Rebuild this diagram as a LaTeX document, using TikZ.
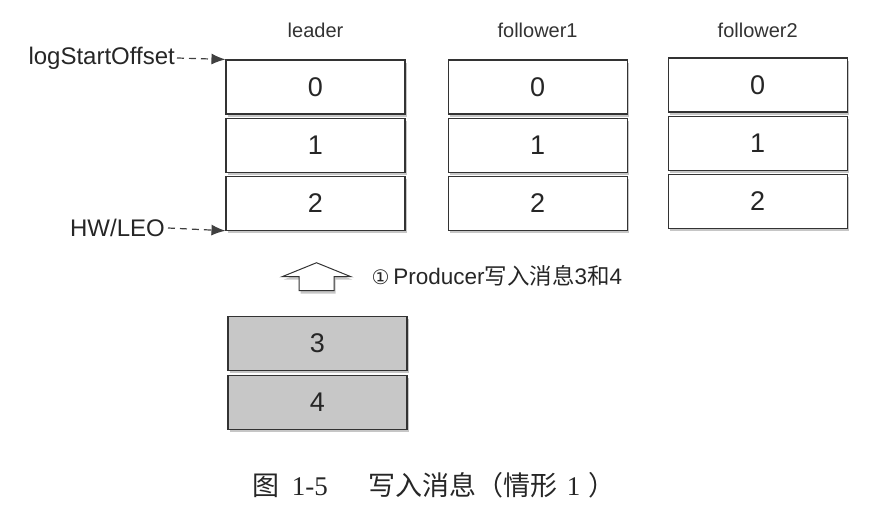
\documentclass[tikz,border=0pt]{standalone}
\usepackage{fontspec}
\setmainfont{Liberation Sans}
\newfontfamily\cjk{Noto Sans CJK SC}
\newfontfamily\capnum{Liberation Serif}
\newfontfamily\symb{DejaVu Sans}
\usetikzlibrary{arrows.meta,positioning,shadows,calc}

\begin{document}
\begin{tikzpicture}[
  x=1pt, y=1pt,
  node distance=3pt and 42pt,
  cell/.style={rectangle, draw=black!80, line width=1.1pt, fill=white,
               minimum width=179pt, minimum height=54pt, inner sep=0pt,
               text=black!85, font=\fontsize{27}{30}\selectfont,
               drop shadow={shadow xshift=1.5pt, shadow yshift=-3pt,
                            fill=black!50, opacity=0.45}},
  msgcell/.style={cell, fill=black!22},
  colname/.style={inner sep=0pt, text=black!80, font=\fontsize{20}{24}\selectfont},
  ptrname/.style={inner sep=0pt, text=black!85, font=\fontsize{24}{28}\selectfont},
  ptr/.style={-{Latex[length=14pt,width=11pt]}, line width=1.2pt, black!75,
              dash pattern=on 7pt off 5pt},
  uparrow/.style={draw=black!80, line width=1pt, fill=white,
                  drop shadow={shadow xshift=1.5pt, shadow yshift=-3pt,
                               fill=black!50, opacity=0.45}}
]
\useasboundingbox (0,0) rectangle (877,519);

% replicas
\node[cell] (lead0) at (315.5,432) {0};
\node[cell, below=of lead0] (lead1) {1};
\node[cell, below=of lead1] (lead2) {2};
\node[cell, right=of lead0] (fa0) {0};
\node[cell, below=of fa0] (fa1) {1};
\node[cell, below=of fa1] (fa2) {2};
\node[cell, right=40pt of fa0, yshift=2pt] (fb0) {0};
\node[cell, below=of fb0] (fb1) {1};
\node[cell, below=of fb1] (fb2) {2};

\node[colname, above=22pt of lead0] (tlead) {leader};
\node[colname, above=22pt of fa0] (tfa) {follower1};
\node[colname, above=20pt of fb0] (tfb) {follower2};

% offsets
\node[ptrname, anchor=east] (lso) at (175,461) {logStartOffset};
\node[ptrname, anchor=east] (hw) at (165,291) {HW/LEO};
\draw[ptr] (lso.east) ++(2pt,0) -- (lead0.north west);
\draw[ptr] (hw.east) ++(3pt,0) -- (lead2.south west);

% new messages
\node[msgcell, below=85pt of lead2, xshift=2pt] (msg3) {3};
\node[msgcell, below=4pt of msg3] (msg4) {4};

\coordinate (up) at ($(lead2.south)+(1,-60)$);
\path[uparrow] (up) ++(-17.5,0) -- ++(35,0) -- ++(0,14) -- ++(17,0)
  -- ($(up)+(0,28)$) -- ($(up)+(-34.5,14)$) -- ++(17,0) -- cycle;
\node[anchor=west, inner sep=0pt, text=black!85,
      font=\fontsize{22.5}{26}\selectfont] (prod) at ($(up)+(55,15)$)
  {{\symb\fontsize{20}{24}\selectfont ①}\,Producer{\cjk 写入消息}3{\cjk 和}4};

% caption
\node[inner sep=0pt, text=black!85, font=\fontsize{27}{30}\selectfont]
  (cap) at (434,34)
  {{\cjk 图}\hspace{0.45em}{\capnum 1-5}\hspace{1.5em}{\cjk 写入消息（情形}\hspace{0.35em}{\capnum 1}\hspace{0.3em}{\cjk ）}};
\end{tikzpicture}
\end{document}
